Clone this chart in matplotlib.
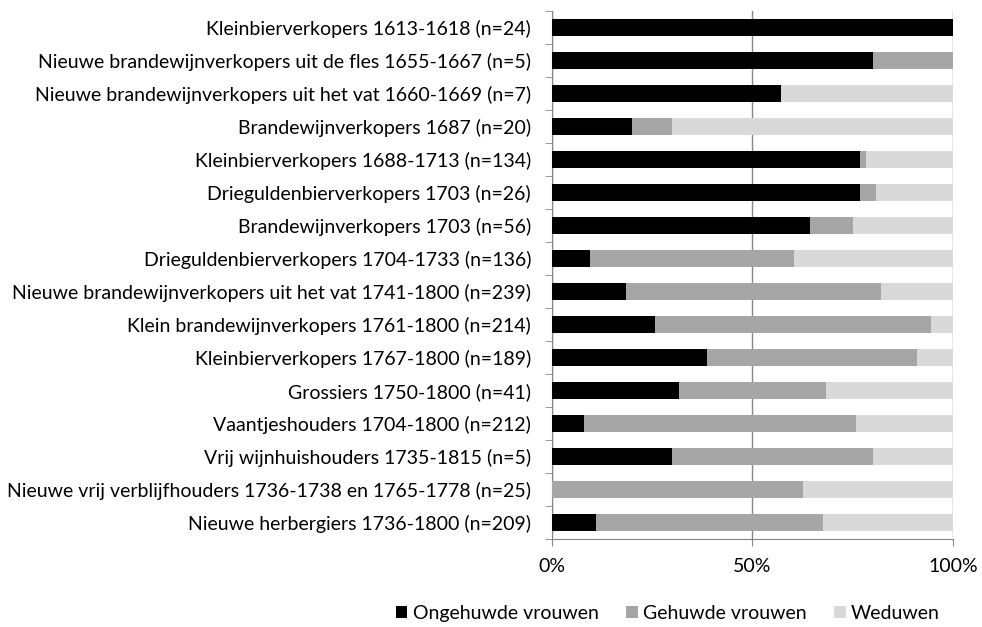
import matplotlib.pyplot as plt
import numpy as np

plt.rcParams['font.family'] = ['Lato', 'DejaVu Sans']

# categorieën (van boven naar beneden)
categorieen = [
    "Kleinbierverkopers 1613-1618 (n=24)",
    "Nieuwe brandewijnverkopers uit de fles 1655-1667 (n=5)",
    "Nieuwe brandewijnverkopers uit het vat 1660-1669 (n=7)",
    "Brandewijnverkopers 1687 (n=20)",
    "Kleinbierverkopers 1688-1713 (n=134)",
    "Drieguldenbierverkopers 1703 (n=26)",
    "Brandewijnverkopers 1703 (n=56)",
    "Drieguldenbierverkopers 1704-1733 (n=136)",
    "Nieuwe brandewijnverkopers uit het vat 1741-1800 (n=239)",
    "Klein brandewijnverkopers 1761-1800 (n=214)",
    "Kleinbierverkopers 1767-1800 (n=189)",
    "Grossiers 1750-1800 (n=41)",
    "Vaantjeshouders 1704-1800 (n=212)",
    "Vrij wijnhuishouders 1735-1815 (n=5)",
    "Nieuwe vrij verblijfhouders 1736-1738 en 1765-1778 (n=25)",
    "Nieuwe herbergiers 1736-1800 (n=209)",
]

ongehuwd = [100, 80, 57.1, 20, 76.9, 76.9, 64.3, 9.6, 18.4, 25.7, 38.6, 31.7, 8.0, 30, 0, 11.0]
gehuwd = [0, 20, 0, 10, 1.5, 3.9, 10.7, 50.7, 63.6, 68.7, 52.4, 36.6, 67.9, 50, 62.5, 56.5]
weduwen = [0, 0, 42.9, 70, 21.6, 19.2, 25.0, 39.7, 18.0, 5.6, 9.0, 31.7, 24.1, 20, 37.5, 32.5]

reeksen = ["Ongehuwde vrouwen", "Gehuwde vrouwen", "Weduwen"]
kleuren = ["#000000", "#a6a6a6", "#d9d9d9"]

fig = plt.figure(figsize=(9.82, 6.27), dpi=100)
ax = fig.add_axes([0.562, 0.1404, 0.4085, 0.8421])

y = np.arange(len(categorieen))
links = np.zeros(len(categorieen))
for naam, waarden, kleur in zip(reeksen, [ongehuwd, gehuwd, weduwen], kleuren):
    ax.barh(y, waarden, left=links, height=0.54, color=kleur, label=naam, zorder=3)
    links = links + np.array(waarden)

ax.set_ylim(len(categorieen) - 0.5, -0.5)
ax.set_xlim(0, 100)

ax.set_yticks(y)
ax.set_yticklabels(categorieen, fontsize=14)
ax.set_yticks(np.arange(-0.5, len(categorieen)), minor=True)
ax.tick_params(axis='y', which='major', length=0, pad=15)
ax.tick_params(axis='y', which='minor', length=5, color='#868686')

ax.set_xticks([0, 50, 100])
ax.set_xticklabels(["0%", "50%", "100%"], fontsize=14)
ax.tick_params(axis='x', length=5, color='#868686', pad=9)

ax.grid(axis='x', color='#868686', linewidth=1, zorder=0)
for kant in ['top', 'right']:
    ax.spines[kant].set_visible(False)
for kant in ['left', 'bottom']:
    ax.spines[kant].set_color('#868686')

fig.legend(loc='center', bbox_to_anchor=(0.680, 0.022), ncol=3, frameon=False,
           fontsize=14, handlelength=0.6, handleheight=0.6, handletextpad=0.28,
           columnspacing=1.4)

fig.savefig("out.png", dpi=100)
